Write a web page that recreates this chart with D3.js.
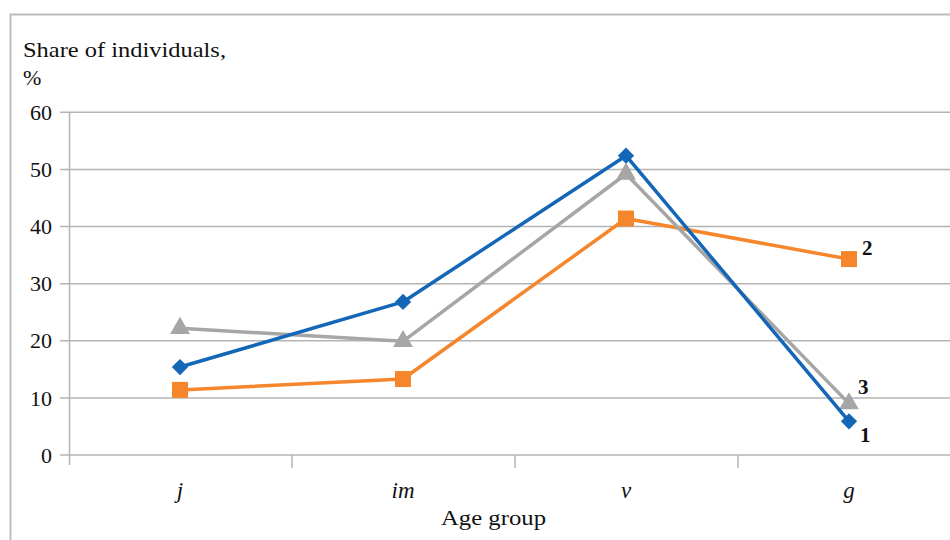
<!DOCTYPE html>
<html>
<head>
<meta charset="utf-8">
<script src="https://cdn.jsdelivr.net/npm/d3@7"></script>
<style>
  html, body { margin: 0; padding: 0; background: #fff; }
  svg { display: block; }
</style>
</head>
<body>
<svg id="chart" width="950" height="540"></svg>
<script>
// Age groups along the horizontal axis
const categories = ["j", "im", "v", "g"];
// Share of individuals (%) in each age group, per population
const series1 = [15.4, 26.8, 52.4, 5.9];
const series2 = [11.4, 13.3, 41.4, 34.3];
const series3 = [22.2, 19.9, 49.2, 9.0];
const seriesNames = ["1", "2", "3"];
const yTicks = [0, 10, 20, 30, 40, 50, 60];

// pick the first installed serif face
function pickFont(candidates) {
  const ctx = document.createElement("canvas").getContext("2d");
  const probe = "Share of individuals, 0123456789 mmmwwwiii";
  ctx.font = "40px monospace";
  const base = ctx.measureText(probe).width;
  for (const f of candidates) {
    ctx.font = `40px '${f}', monospace`;
    if (Math.abs(ctx.measureText(probe).width - base) > 0.5) return `'${f}'`;
  }
  return "serif";
}
const FONT = pickFont(["Liberation Serif", "Tinos", "Times New Roman", "DejaVu Serif", "Noto Serif", "FreeSerif"]) + ", serif";

const svg = d3.select("#chart").style("font-family", FONT);
const plotLeft = 68.5, plotRight = 960.5, plotTop = 112.3, plotBottom = 455;

// outer frame
svg.append("rect")
  .attr("x", 10.5).attr("y", 14.5)
  .attr("width", 1000).attr("height", 600)
  .attr("fill", "none").attr("stroke", "#bdbdbd").attr("stroke-width", 2);

const xBand = d3.scaleBand().domain(categories).range([plotLeft, plotRight]);
const x = d3.scalePoint().domain(categories).range([plotLeft, plotRight]).padding(0.5);
const y = d3.scaleLinear().domain([0, 60]).range([plotBottom, plotTop]);

// horizontal gridlines
svg.append("g").selectAll("line").data(yTicks).join("line")
  .attr("x1", 60).attr("x2", plotRight)
  .attr("y1", d => y(d)).attr("y2", d => y(d))
  .attr("stroke", "#b4b4b4").attr("stroke-width", 1.5);

// vertical axis line
svg.append("line")
  .attr("x1", plotLeft + 1).attr("x2", plotLeft + 1)
  .attr("y1", plotTop).attr("y2", plotBottom + 10)
  .attr("stroke", "#b4b4b4").attr("stroke-width", 1.5);

// category boundary ticks
svg.append("g").selectAll("line").data(categories.slice(1)).join("line")
  .attr("x1", d => xBand(d) + 0.5).attr("x2", d => xBand(d) + 0.5)
  .attr("y1", plotBottom).attr("y2", plotBottom + 13)
  .attr("stroke", "#b4b4b4").attr("stroke-width", 1.5);

// y tick labels
svg.append("g").selectAll("text").data(yTicks).join("text")
  .attr("x", 52).attr("y", d => y(d))
  .attr("dy", "0.35em")
  .attr("text-anchor", "end")
  .attr("font-size", 22).attr("fill", "#111")
  .text(d => d);

// x category labels
svg.append("g").selectAll("text").data(categories).join("text")
  .attr("x", d => x(d)).attr("y", 498)
  .attr("text-anchor", "middle")
  .attr("font-size", 23).attr("font-style", "italic").attr("fill", "#111")
  .text(d => d);

// axis titles
svg.append("text").attr("x", 23).attr("y", 57).attr("font-size", 22).attr("fill", "#111")
  .attr("textLength", 203).attr("lengthAdjust", "spacingAndGlyphs")
  .text("Share of individuals,");
svg.append("text").attr("x", 23).attr("y", 85).attr("font-size", 22).attr("fill", "#111")
  .text("%");
svg.append("text").attr("x", 441).attr("y", 525)
  .attr("font-size", 22).attr("fill", "#111")
  .attr("textLength", 105).attr("lengthAdjust", "spacingAndGlyphs")
  .text("Age group");

const data = [
  { name: seriesNames[0], values: series1, color: "#1466b6", symbol: d3.symbolDiamond2, size: 170 },
  { name: seriesNames[1], values: series2, color: "#f5862b", symbol: d3.symbolSquare, size: 256 },
  { name: seriesNames[2], values: series3, color: "#a6a6a6", symbol: d3.symbolTriangle, size: 170 }
];

const line = d3.line()
  .x((d, i) => x(categories[i]))
  .y(d => y(d));

// draw orange first, then gray, then blue on top
const order = [1, 2, 0];
order.forEach(k => {
  const s = data[k];
  const g = svg.append("g");
  g.append("path")
    .attr("d", line(s.values))
    .attr("fill", "none")
    .attr("stroke", s.color)
    .attr("stroke-width", 3.5)
    .attr("stroke-linejoin", "round");
  g.selectAll("path.mk").data(s.values).join("path")
    .attr("class", "mk")
    .attr("transform", (d, i) => `translate(${x(categories[i])},${y(d)})`)
    .attr("d", d3.symbol().type(s.symbol).size(s.size))
    .attr("fill", s.color);
});

// series labels at the last point
const lastX = x(categories[categories.length - 1]);
const labelOffsets = [[11, 13], [13, -11], [9, -17]];
data.forEach((s, k) => {
  svg.append("text")
    .attr("x", lastX + labelOffsets[k][0])
    .attr("y", y(s.values[s.values.length - 1]) + labelOffsets[k][1])
    .attr("dy", "0.35em")
    .attr("font-size", 21).attr("font-weight", "bold").attr("fill", "#111")
    .text(s.name);
});
</script>
</body>
</html>
